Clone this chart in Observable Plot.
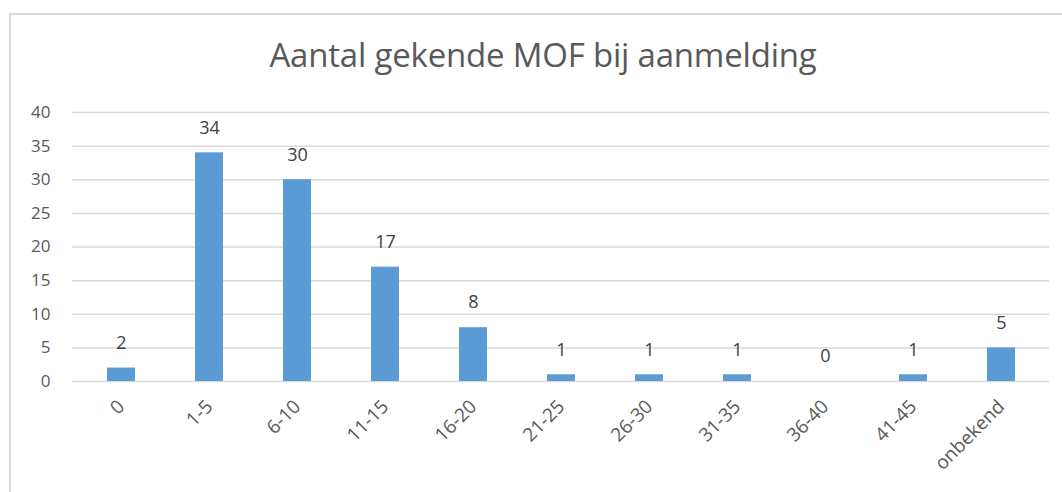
<!DOCTYPE html>
<html>
<head>
<meta charset="utf-8">
<script src="https://cdn.jsdelivr.net/npm/d3@7"></script>
<script src="https://cdn.jsdelivr.net/npm/@observablehq/plot@0.6"></script>
<style>
  html, body { margin: 0; padding: 0; background: #fff; }
  #wrap { position: relative; width: 1062px; height: 492px; overflow: hidden; font-family: "Open Sans", "Liberation Sans", sans-serif; }
  #border { position: absolute; left: 9px; top: 13px; width: 1100px; height: 520px; border: 2px solid #D9D9D9; box-sizing: border-box; }
  #title { position: absolute; left: 9px; width: 1068px; top: 32px; text-align: center; font-size: 33px; color: #595959; letter-spacing: -0.2px; }
  #chart { position: absolute; left: 0; top: 0; }
</style>
</head>
<body>
<div id="wrap">
  <div id="border"></div>
  <div id="title">Aantal gekende MOF bij aanmelding</div>
  <div id="chart"></div>
</div>
<script>
const categories = ["0", "1-5", "6-10", "11-15", "16-20", "21-25", "26-30", "31-35", "36-40", "41-45", "onbekend"];
const counts = [2, 34, 30, 17, 8, 1, 1, 1, 0, 1, 5];
const yTicks = [0, 5, 10, 15, 20, 25, 30, 35, 40];

const data = categories.map((c, i) => ({cat: c, n: counts[i]}));

const chart = Plot.plot({
  width: 1062,
  height: 492,
  marginLeft: 72,
  marginRight: 13,
  marginTop: 112,
  marginBottom: 111,
  style: {fontFamily: "'Open Sans', 'Liberation Sans', sans-serif", fontSize: "17px", color: "#595959", background: "transparent"},
  x: {domain: categories, paddingInner: 0.684, paddingOuter: 0.342, label: null},
  y: {domain: [0, 40], label: null},
  marks: [
    Plot.gridY(yTicks, {stroke: "#D9D9D9", strokeOpacity: 1, strokeWidth: 1.5}),
    Plot.barY(data, {x: "cat", y: "n", fill: "#5B9BD5"}),
    Plot.text(data, {x: "cat", y: "n", text: d => String(d.n), dy: -25, fill: "#404040", fontSize: 18, lineAnchor: "middle"}),
    Plot.axisY(yTicks, {tickSize: 0, tickPadding: 22, fontSize: 17, fill: "#595959", label: null}),
    Plot.axisX({tickSize: 0, tickRotate: -45, tickPadding: 22, fontSize: 19, fill: "#595959", label: null})
  ]
});
document.getElementById("chart").appendChild(chart);
</script>
</body>
</html>
